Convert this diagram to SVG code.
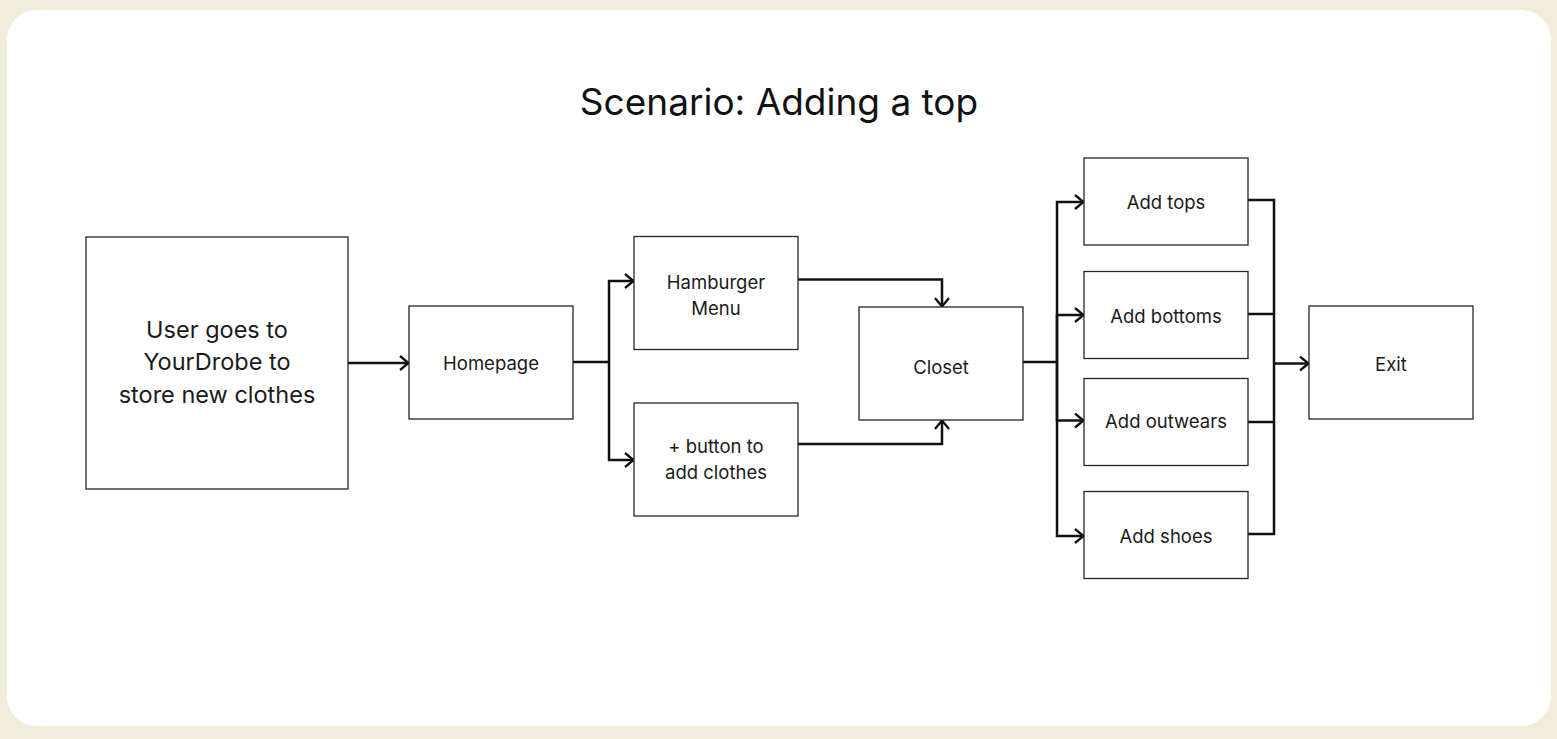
<svg xmlns="http://www.w3.org/2000/svg" width="1557" height="739" viewBox="0 0 1557 739">
<style>
.node rect{fill:#ffffff;stroke:#262626;stroke-width:1.3}
.node text{font-family:Inter,"Noto Sans","Liberation Sans",sans-serif;font-size:18.5px;fill:#1a1a1a;text-anchor:middle;dominant-baseline:central}
.big text{font-size:23.5px}
.conn path{fill:none;stroke:#111111;stroke-width:2.5}
.title{font-family:Inter,"Noto Sans","Liberation Sans",sans-serif;font-size:37px;fill:#111111;text-anchor:middle}
</style>
<defs>
<marker id="arr" viewBox="0 0 12 16" refX="11" refY="8" markerWidth="12" markerHeight="16" markerUnits="userSpaceOnUse" orient="auto">
<path d="M2,1 L10.5,8 L2,15" fill="none" stroke="#111111" stroke-width="2.3"/>
</marker>
</defs>
<rect x="0" y="0" width="1557" height="739" fill="#f0eddb"/>
<rect x="7" y="10" width="1544" height="716" rx="30" fill="#ffffff"/>
<text class="title" x="779" y="115">Scenario: Adding a top</text>

<g class="conn">
<path d="M348,363 H409" marker-end="url(#arr)"/>
<path d="M573,362 H609"/>
<path d="M609,362 V281 H634" marker-end="url(#arr)"/>
<path d="M609,362 V460 H634" marker-end="url(#arr)"/>
<path d="M798,279.5 H942 V307" marker-end="url(#arr)"/>
<path d="M798,444 H942 V420" marker-end="url(#arr)"/>
<path d="M1023,362 H1057"/>
<path d="M1057,362 V202 H1084" marker-end="url(#arr)"/>
<path d="M1057,362 V315 H1084" marker-end="url(#arr)"/>
<path d="M1057,362 V420.5 H1084" marker-end="url(#arr)"/>
<path d="M1057,362 V536 H1084" marker-end="url(#arr)"/>
<path d="M1248,200 H1274 V534 H1248"/>
<path d="M1248,314 H1274"/>
<path d="M1248,422 H1274"/>
<path d="M1274,363.5 H1309" marker-end="url(#arr)"/>
</g>

<g id="user" class="node big">
<rect x="86" y="237" width="262" height="252"/>
<text x="217" y="329">User goes to</text>
<text x="217" y="361">YourDrobe to</text>
<text x="217" y="394">store new clothes</text>
</g>
<g id="homepage" class="node">
<rect x="409" y="306" width="164" height="113"/>
<text x="491" y="363">Homepage</text>
</g>
<g id="hamburger" class="node">
<rect x="634" y="236.5" width="164" height="113"/>
<text x="716" y="282">Hamburger</text>
<text x="716" y="308">Menu</text>
</g>
<g id="plus" class="node">
<rect x="634" y="403" width="164" height="113"/>
<text x="716" y="446">+ button to</text>
<text x="716" y="472">add clothes</text>
</g>
<g id="closet" class="node">
<rect x="859" y="307" width="164" height="113"/>
<text x="941" y="367">Closet</text>
</g>
<g id="tops" class="node">
<rect x="1084" y="158" width="164" height="87"/>
<text x="1166" y="202">Add tops</text>
</g>
<g id="bottoms" class="node">
<rect x="1084" y="271.5" width="164" height="87"/>
<text x="1166" y="316">Add bottoms</text>
</g>
<g id="outwears" class="node">
<rect x="1084" y="378.5" width="164" height="87"/>
<text x="1166" y="421">Add outwears</text>
</g>
<g id="shoes" class="node">
<rect x="1084" y="491.5" width="164" height="87"/>
<text x="1166" y="536">Add shoes</text>
</g>
<g id="exit" class="node">
<rect x="1309" y="306" width="164" height="113"/>
<text x="1391" y="364">Exit</text>
</g>
</svg>
